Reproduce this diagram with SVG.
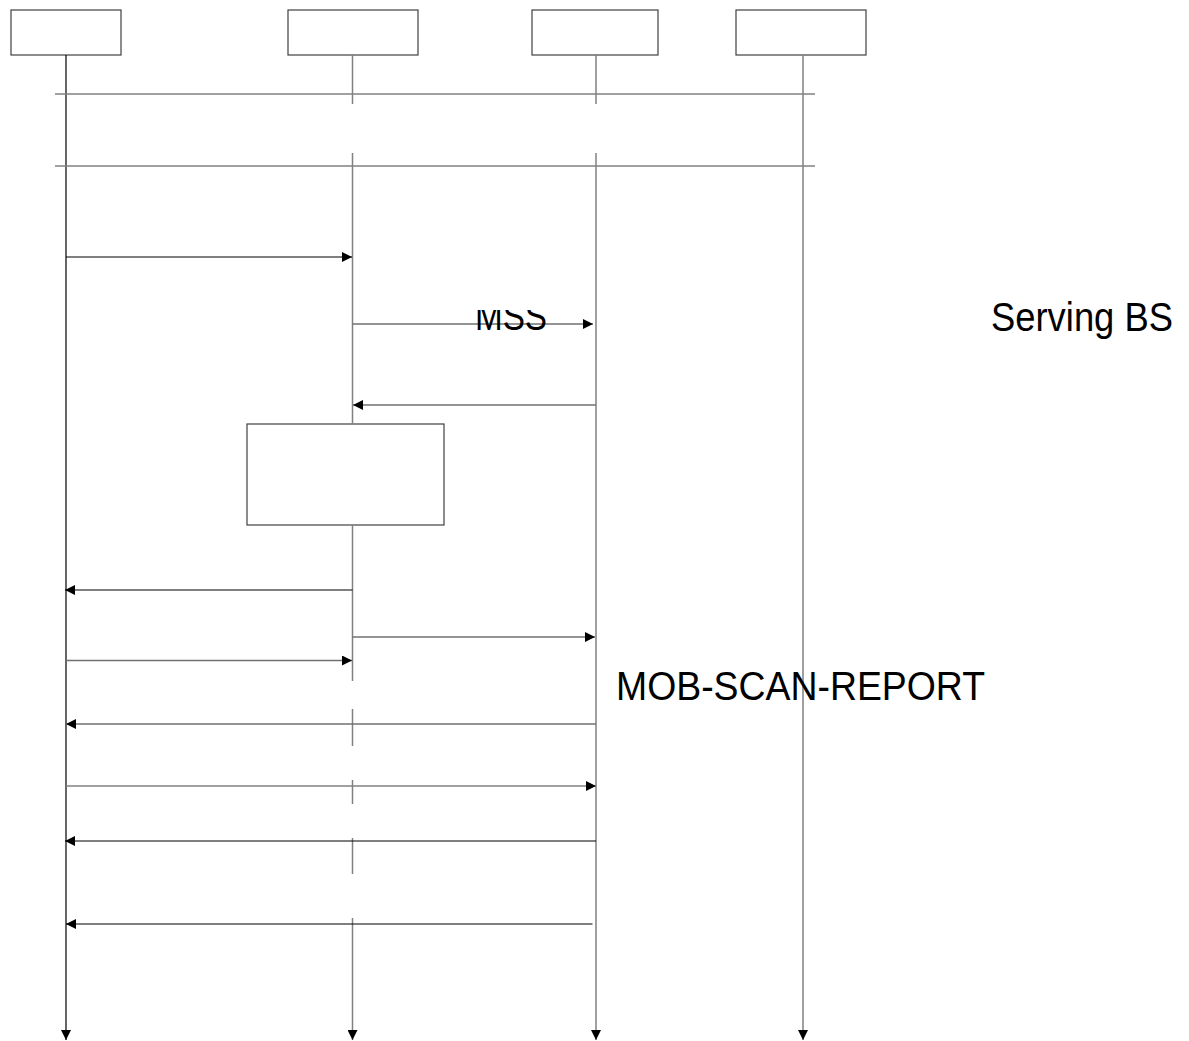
<svg xmlns="http://www.w3.org/2000/svg" width="1189" height="1041" viewBox="0 0 1189 1041">
<style>
.box{fill:#fff;stroke:#404040;stroke-width:1.2}
.g{stroke:#808080;stroke-width:1.5;fill:none}
.k{stroke:#000;stroke-width:1.2;fill:none}
.gm{stroke:#707070;stroke-width:1.4;fill:none}
.t{font-family:"Liberation Sans",Arial,sans-serif;font-size:40px;fill:#000}
</style>
<defs>
<marker id="ah" viewBox="0 0 10 10" refX="10" refY="5" markerWidth="10" markerHeight="10" markerUnits="userSpaceOnUse" orient="auto">
<path d="M0,0 L10,5 L0,10 Z" fill="#000"/>
</marker>
<clipPath id="mssclip"><rect x="440" y="310" width="150" height="40"/></clipPath>
</defs>
<g id="node-1"><rect class="box" x="11" y="10" width="110" height="45"/></g>
<g id="node-2"><rect class="box" x="288" y="10" width="130" height="45"/></g>
<g id="node-3"><rect class="box" x="532" y="10" width="126" height="45"/></g>
<g id="node-4"><rect class="box" x="736" y="10" width="130" height="45"/></g>
<g id="node-5"><rect class="box" x="247" y="424" width="197" height="101"/></g>
<g id="connectors">
<line class="k" x1="66" y1="55" x2="66" y2="1040" marker-end="url(#ah)"/>
<line class="g" x1="352.5" y1="55" x2="352.5" y2="104"/>
<line class="g" x1="352.5" y1="153" x2="352.5" y2="424"/>
<line class="g" x1="352.5" y1="525" x2="352.5" y2="681"/>
<line class="g" x1="352.5" y1="709" x2="352.5" y2="746"/>
<line class="g" x1="352.5" y1="780" x2="352.5" y2="804"/>
<line class="g" x1="352.5" y1="838" x2="352.5" y2="874"/>
<line class="g" x1="352.5" y1="918" x2="352.5" y2="1040" marker-end="url(#ah)"/>
<line class="g" x1="596" y1="55" x2="596" y2="104"/>
<line class="g" x1="596" y1="153" x2="596" y2="1040" marker-end="url(#ah)"/>
<line class="g" x1="803" y1="55" x2="803" y2="1040" marker-end="url(#ah)"/>
<line class="g" x1="55" y1="94" x2="815" y2="94"/>
<line class="g" x1="55" y1="166" x2="815" y2="166"/>
<line class="k" x1="66" y1="257" x2="352" y2="257" marker-end="url(#ah)"/>
<line class="gm" x1="352.5" y1="324" x2="593" y2="324" marker-end="url(#ah)"/>
<line class="gm" x1="596" y1="405" x2="353" y2="405" marker-end="url(#ah)"/>
<line class="k" x1="352.5" y1="590" x2="65" y2="590" marker-end="url(#ah)"/>
<line class="gm" x1="352.5" y1="637" x2="595" y2="637" marker-end="url(#ah)"/>
<line class="gm" x1="66" y1="660.5" x2="352" y2="660.5" marker-end="url(#ah)"/>
<line class="gm" x1="596" y1="724" x2="66" y2="724" marker-end="url(#ah)"/>
<line class="g" x1="66" y1="786" x2="596" y2="786" marker-end="url(#ah)"/>
<line class="k" x1="596" y1="841" x2="65" y2="841" marker-end="url(#ah)"/>
<line class="k" x1="592.5" y1="924" x2="66" y2="924" marker-end="url(#ah)"/>
</g>
<text class="t" x="475" y="330" textLength="72" lengthAdjust="spacingAndGlyphs" clip-path="url(#mssclip)">MSS</text>
<text class="t" x="991" y="330.5" textLength="182" lengthAdjust="spacingAndGlyphs">Serving BS</text>
<text class="t" x="616" y="699.5" textLength="369" lengthAdjust="spacingAndGlyphs">MOB-SCAN-REPORT</text>
</svg>
